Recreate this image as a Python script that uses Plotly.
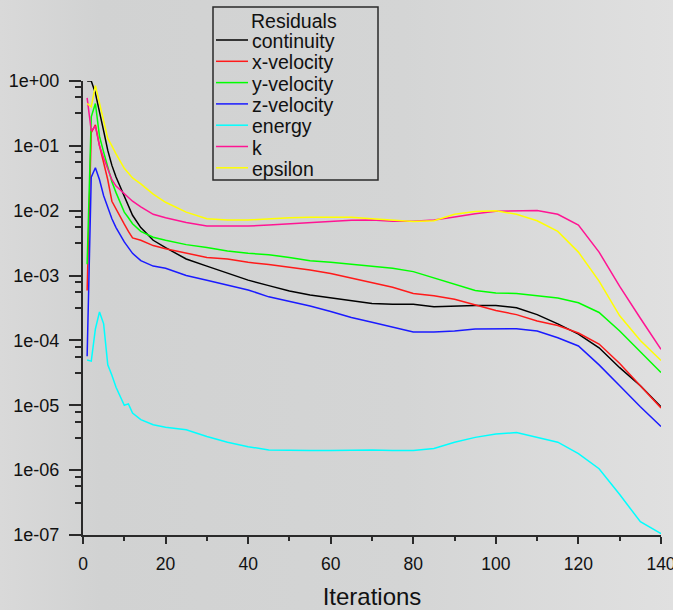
import plotly.graph_objects as go

# ---- data ----
iterations = [1, 2, 3, 4, 5, 6, 7, 8, 10, 11, 12, 14, 17, 20, 25, 30, 35, 40, 45, 50,
              55, 60, 65, 70, 75, 80, 85, 90, 95, 100, 105, 110, 115, 120, 125, 130, 135, 140]

continuity = [1.0, 1.0, 0.65, 0.35, 0.17, 0.085, 0.05, 0.033, 0.017, 0.012, 0.0085, 0.0055,
              0.0035, 0.0027, 0.0018, 0.0014, 0.0011, 8.5e-4, 7.0e-4, 5.8e-4,
              5.0e-4, 4.5e-4, 4.1e-4, 3.7e-4, 3.6e-4, 3.6e-4, 3.3e-4, 3.4e-4, 3.45e-4, 3.45e-4,
              3.2e-4, 2.5e-4, 1.8e-4, 1.25e-4, 7.7e-5, 3.8e-5, 2.0e-5, 9.5e-6]

x_velocity = [5.9e-4, 0.16, 0.21, 0.1, 0.055, 0.03, 0.014, 0.0105, 0.0062, 0.0048, 0.0038, 0.0035,
              0.0029, 0.0026, 0.0022, 0.0019, 0.0018, 0.0016, 0.00148, 0.00135,
              0.00122, 0.00108, 9.2e-4, 7.8e-4, 6.6e-4, 5.3e-4, 4.9e-4, 4.3e-4, 3.5e-4, 2.9e-4,
              2.5e-4, 2.0e-4, 1.7e-4, 1.3e-4, 8.8e-5, 4.4e-5, 2.0e-5, 9.1e-6]

y_velocity = [1.5e-3, 0.28, 0.45, 0.14, 0.08, 0.045, 0.028, 0.019, 0.0095, 0.0078, 0.0063, 0.0048,
              0.0039, 0.0035, 0.003, 0.0027, 0.0024, 0.0022, 0.0021, 0.0019,
              0.0017, 0.0016, 0.0015, 0.0014, 0.0013, 0.00115, 9.2e-4, 7.3e-4, 5.9e-4, 5.4e-4,
              5.3e-4, 4.9e-4, 4.5e-4, 3.8e-4, 2.7e-4, 1.4e-4, 6.8e-5, 3.2e-5]

z_velocity = [5.7e-5, 0.033, 0.046, 0.03, 0.017, 0.011, 0.0075, 0.0055, 0.0033, 0.0027, 0.0022, 0.0017,
              0.0014, 0.0013, 0.001, 8.5e-4, 7.2e-4, 6.0e-4, 4.7e-4, 4.0e-4,
              3.4e-4, 2.8e-4, 2.25e-4, 1.9e-4, 1.6e-4, 1.35e-4, 1.35e-4, 1.4e-4, 1.5e-4, 1.52e-4,
              1.52e-4, 1.4e-4, 1.1e-4, 8.2e-5, 4.2e-5, 2.0e-5, 9.5e-6, 4.7e-6]

energy = [5e-5, 4.8e-5, 1.5e-4, 2.75e-4, 1.8e-4, 4.2e-5, 2.9e-5, 1.9e-5, 1.0e-5, 1.05e-5, 7.6e-6, 6.0e-6,
          5.0e-6, 4.6e-6, 4.2e-6, 3.3e-6, 2.7e-6, 2.3e-6, 2.05e-6, 2.0e-6,
          2.0e-6, 2.0e-6, 2.05e-6, 2.05e-6, 2.0e-6, 2.0e-6, 2.15e-6, 2.7e-6, 3.2e-6, 3.6e-6,
          3.8e-6, 3.2e-6, 2.7e-6, 1.8e-6, 1.05e-6, 4.2e-7, 1.6e-7, 1.05e-7]

k = [0.55, 0.17, 0.2, 0.1, 0.065, 0.045, 0.03, 0.024, 0.018, 0.016, 0.014, 0.0115,
     0.0088, 0.0078, 0.0066, 0.0058, 0.0058, 0.0058, 0.006, 0.0063,
     0.0066, 0.0069, 0.0071, 0.0072, 0.0069, 0.0069, 0.0072, 0.008, 0.009, 0.0098,
     0.01, 0.0101, 0.0088, 0.006, 0.0023, 6.8e-4, 2.2e-4, 7.3e-5]

epsilon = [0.45, 0.4, 0.85, 0.45, 0.25, 0.13, 0.1, 0.075, 0.045, 0.038, 0.032, 0.026,
           0.018, 0.0135, 0.0095, 0.0075, 0.0072, 0.0072, 0.0075, 0.0078,
           0.0079, 0.008, 0.0079, 0.0075, 0.0071, 0.0068, 0.007, 0.0088, 0.0097, 0.0100,
           0.0088, 0.007, 0.0048, 0.0023, 8.2e-4, 2.4e-4, 1.0e-4, 4.9e-5]

series_names = ["continuity", "x-velocity", "y-velocity", "z-velocity", "energy", "k", "epsilon"]
series_values = [continuity, x_velocity, y_velocity, z_velocity, energy, k, epsilon]
series_colors = ["#000000", "#ff1a1a", "#00ff00", "#1a1aff", "#00ffff", "#ff1493", "#ffff00"]
legend_title = "Residuals"

y_tick_values = [1e0, 1e-1, 1e-2, 1e-3, 1e-4, 1e-5, 1e-6, 1e-7]
y_tick_labels = ["1e+00", "1e-01", "1e-02", "1e-03", "1e-04", "1e-05", "1e-06", "1e-07"]
x_tick_values = [0, 20, 40, 60, 80, 100, 120, 140]
x_minor_values = [10, 30, 50, 70, 90, 110, 130]

# minor y ticks inside each decade
y_minor_values = []
for d in range(0, 7):
    for f in (10 ** -0.1, 10 ** -0.25, 10 ** -0.5):
        y_minor_values.append(f * 10.0 ** (-d))

FONT = "Liberation Sans, Arial, sans-serif"
AX_COLOR = "#2a2a2a"
TXT = "#111111"

W, H = 673, 610
L, R, T, B = 83, 12, 81, 75
pw, ph = W - L - R, H - T - B


def px_x(px):
    return (px - L) / pw


def px_y(py):
    return (H - B - py) / ph


fig = go.Figure()
for name, vals, col in zip(series_names, series_values, series_colors):
    fig.add_trace(go.Scatter(x=iterations, y=vals, name=name, mode="lines",
                             line=dict(color=col, width=1.5), showlegend=False))

# ---- legend box drawn in pixel space (paper coords) ----
shapes = [dict(type="rect", xref="paper", yref="paper",
               x0=px_x(213), x1=px_x(378), y0=px_y(180), y1=px_y(7),
               line=dict(color="#2a2a2a", width=1.5), fillcolor="rgba(0,0,0,0)", layer="above")]
annotations = [dict(text=legend_title, xref="paper", yref="paper", x=px_x(294), y=px_y(21),
                    xanchor="center", yanchor="middle", showarrow=False,
                    font=dict(family=FONT, size=19.5, color=TXT))]
row_y0, row_dy = 41, 21.3
for i, (name, col) in enumerate(zip(series_names, series_colors)):
    yy = row_y0 + i * row_dy
    shapes.append(dict(type="line", xref="paper", yref="paper",
                       x0=px_x(216), x1=px_x(248), y0=px_y(yy - 1), y1=px_y(yy - 1),
                       line=dict(color=col, width=1.5), layer="above"))
    annotations.append(dict(text=name, xref="paper", yref="paper", x=px_x(250), y=px_y(yy),
                            xanchor="left", yanchor="middle", showarrow=False,
                            font=dict(family=FONT, size=19.5, color=TXT)))

bg_svg = (
    "data:image/svg+xml;utf8,"
    "<svg xmlns='http://www.w3.org/2000/svg' width='673' height='610' preserveAspectRatio='none'>"
    "<defs><linearGradient id='g' x1='0' y1='0' x2='1' y2='0'>"
    "<stop offset='0' stop-color='%23d9d9d9'/>"
    "<stop offset='0.15' stop-color='%23d1d2d2'/>"
    "<stop offset='0.6' stop-color='%23d4d5d5'/>"
    "<stop offset='1' stop-color='%23e0e0e0'/>"
    "</linearGradient></defs>"
    "<rect width='673' height='610' fill='url(%23g)'/></svg>"
)

fig.update_layout(
    width=W, height=H,
    margin=dict(l=L, r=R, t=T, b=B, autoexpand=False),
    paper_bgcolor="#d4d5d5",
    plot_bgcolor="rgba(0,0,0,0)",
    font=dict(family=FONT, color=TXT, size=17),
    showlegend=False,
    shapes=shapes,
    annotations=annotations,
    images=[dict(source=bg_svg, xref="paper", yref="paper",
                 x=-L / pw, y=1 + T / ph, sizex=W / pw, sizey=H / ph,
                 sizing="stretch", layer="below", xanchor="left", yanchor="top")],
)

fig.update_xaxes(
    range=[0, 140], showgrid=False, zeroline=False,
    showline=True, linecolor=AX_COLOR, linewidth=2,
    tickmode="array", tickvals=x_tick_values,
    ticks="outside", ticklen=7, tickwidth=1.5, tickcolor=AX_COLOR,
    tickfont=dict(family=FONT, size=17.5, color=TXT),
    ticklabelstandoff=5, ticklabeloverflow="allow",
    minor=dict(tickmode="array", tickvals=x_minor_values, ticks="outside", ticklen=4,
               tickwidth=1.5, tickcolor=AX_COLOR),
    title=dict(text="Iterations", font=dict(family=FONT, size=24, color=TXT), standoff=16),
)

fig.update_yaxes(
    type="log", range=[-7, 0], showgrid=False, zeroline=False,
    showline=True, linecolor=AX_COLOR, linewidth=2,
    tickmode="array", tickvals=y_tick_values, ticktext=y_tick_labels,
    ticks="outside", ticklen=12, tickwidth=1.5, tickcolor=AX_COLOR,
    tickfont=dict(family=FONT, size=18, color=TXT),
    ticklabelstandoff=6, ticklabeloverflow="allow",
    minor=dict(tickmode="array", tickvals=y_minor_values, ticks="outside", ticklen=6,
               tickwidth=1.5, tickcolor=AX_COLOR),
)

fig.write_html("out.html", config={"displayModeBar": False},
               post_script="document.body.style.margin='0';")
